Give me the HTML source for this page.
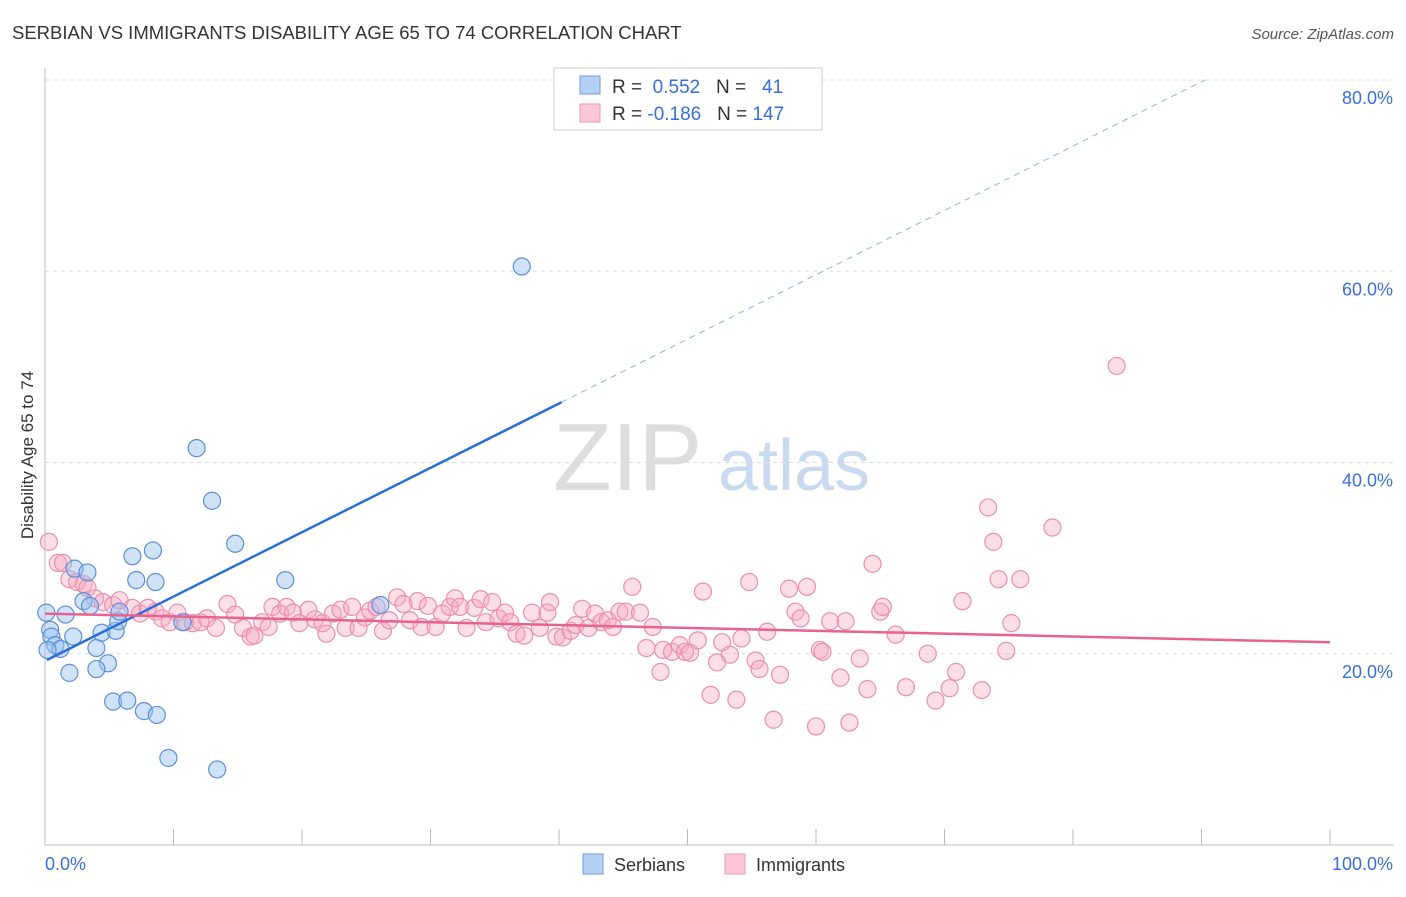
<!DOCTYPE html>
<html><head><meta charset="utf-8"><style>
body{margin:0;background:#fff;font-family:"Liberation Sans",sans-serif;}
svg text{font-family:"Liberation Sans",sans-serif;}
</style></head><body>
<svg id="chart" width="1406" height="892" xmlns="http://www.w3.org/2000/svg">
<text x="12" y="39" font-size="18.5" fill="#333">SERBIAN VS IMMIGRANTS DISABILITY AGE 65 TO 74 CORRELATION CHART</text>
<text x="1394" y="39" font-size="15" fill="#555" font-style="italic" text-anchor="end">Source: ZipAtlas.com</text>
<text x="553" y="490" font-size="96" fill="#ddd" font-family="Liberation Serif,serif">ZIP</text>
<text x="718" y="490" font-size="72" fill="#c9daf0">atlas</text>
<g id="grid"></g>
<g id="axes"></g>
<g id="pts"></g>
<g id="lines"></g>
<text transform="translate(33,455) rotate(-90)" font-size="17" fill="#333" text-anchor="middle">Disability Age 65 to 74</text>
<g>
<rect x="554" y="68" width="268" height="62" fill="#fff" stroke="#ccc"/>
<rect x="580" y="76" width="20" height="18" fill="#b6d0f3" stroke="#6d9be0"/>
<rect x="580" y="104" width="20" height="18" fill="#f9c7d6" stroke="#ec9ab4"/>
<text x="612" y="93" font-size="19" fill="#333">R = <tspan fill="#3a6fd8">&#160;0.552</tspan>&#160;&#160;&#160;N = <tspan fill="#3a6fd8">&#160;&#160;41</tspan></text>
<text x="612" y="120" font-size="19" fill="#333">R = <tspan fill="#3a6fd8">-0.186</tspan>&#160;&#160;&#160;N = <tspan fill="#3a6fd8">147</tspan></text>
</g>
<g>
<rect x="583" y="854" width="20" height="20" fill="#b6d0f3" stroke="#6d9be0"/>
<text x="614" y="871" font-size="18" fill="#333">Serbians</text>
<rect x="725" y="854" width="20" height="20" fill="#f9c7d6" stroke="#ec9ab4"/>
<text x="756" y="871" font-size="18" fill="#333">Immigrants</text>
</g>
</svg>
<script>
const serbX=[37.1,11.8,13.0,14.8,8.4,6.8,7.1,8.6,18.7,2.3,3.3,3.0,3.5,0.1,1.6,0.4,0.5,0.8,1.2,2.2,4.0,4.4,5.5,5.7,4.9,4.0,1.9,5.3,6.4,7.7,8.7,9.6,13.4,26.1,10.7,5.8,0.2];
const serbY=[60.5,41.5,36.0,31.5,30.8,30.2,27.7,27.5,27.7,28.9,28.5,25.5,25.0,24.3,24.1,22.5,21.8,20.9,20.5,21.8,20.6,22.2,22.4,23.4,19.0,18.4,18.0,15.0,15.1,14.0,13.6,9.1,7.9,25.1,23.3,24.4,20.4];
const immX=[0.3,1.0,1.4,1.9,2.5,3.0,3.3,3.9,4.5,5.3,5.8,6.8,7.4,8.0,8.6,9.1,9.7,10.3,10.9,11.5,12.1,12.6,13.3,14.2,14.8,15.4,16.0,16.3,16.9,17.4,17.7,18.3,18.8,19.3,19.8,20.5,21.0,21.6,21.9,22.4,23.0,23.4,23.9,24.4,24.9,25.3,25.8,26.3,26.8,27.4,27.9,28.4,29.0,29.3,29.8,30.4,30.9,31.5,31.9,32.3,32.8,33.4,33.9,34.3,34.8,35.3,35.8,36.2,36.7,37.3,37.9,38.5,39.1,39.3,39.8,40.3,40.9,41.3,41.8,42.3,42.8,43.3,43.8,44.2,44.7,45.2,45.7,46.3,46.8,47.3,47.9,48.1,48.8,49.4,49.8,50.2,50.8,51.2,51.8,52.3,52.7,53.3,53.8,54.2,54.8,55.3,55.6,56.2,56.7,57.2,57.9,58.4,58.8,59.3,60.0,60.3,60.5,61.1,61.9,62.3,62.6,63.4,64.0,64.4,65.0,65.2,66.2,67.0,68.7,69.3,70.4,70.9,71.4,72.9,73.4,73.8,74.2,74.8,75.2,75.9,78.4,83.4];
const immY=[31.7,29.5,29.5,27.8,27.5,27.3,26.9,25.8,25.4,25.1,25.6,24.8,24.2,24.8,24.4,23.7,23.3,24.3,23.3,23.2,23.3,23.7,22.7,25.2,24.1,22.7,21.8,21.9,23.3,22.8,24.9,24.2,24.9,24.3,23.2,24.6,23.6,23.2,22.1,24.2,24.6,22.7,24.9,22.7,23.8,24.5,24.9,22.4,23.5,25.9,25.2,23.5,25.5,22.8,25.0,22.8,24.2,24.9,25.8,24.9,22.7,24.8,25.7,23.3,25.4,23.7,24.3,23.3,22.1,21.9,24.3,22.7,24.3,25.4,21.8,21.7,22.4,23.0,24.7,22.7,24.2,23.3,23.5,22.8,24.4,24.4,27.0,24.3,20.6,22.8,18.1,20.4,20.2,20.9,20.2,20.1,21.4,26.5,15.7,19.1,21.2,19.9,15.2,21.6,27.5,19.3,18.4,22.3,13.1,17.8,26.8,24.4,23.7,27.0,12.4,20.4,20.2,23.4,17.5,23.4,12.8,19.5,16.3,29.4,24.4,24.9,22.0,16.5,20.0,15.1,16.4,18.1,25.5,16.2,35.3,31.7,27.8,20.3,23.2,27.8,33.2,50.1];
const yTicks=[20,40,60,80];
const yTickLabels=["20.0%","40.0%","60.0%","80.0%"];
const xTicks=[0,10,20,30,40,50,60,70,80,90,100];
const serbFit=[19.25,0.673]; // intercept, slope
const serbSolidEnd=40.2;
const immFit=[24.2,-0.03];

const NS="http://www.w3.org/2000/svg";
const X=v=>45+v*12.85, Y=v=>845-v*9.5625;
function mk(tag,attrs,parent){const e=document.createElementNS(NS,tag);for(const k in attrs)e.setAttribute(k,attrs[k]);document.getElementById(parent).appendChild(e);return e;}
yTicks.forEach((t,i)=>{
 const g=mk('line',{x1:45,x2:1394,y1:Y(t),y2:Y(t),stroke:'#ddd','stroke-dasharray':'4,4'},'grid');
 
 
 const tx=mk('text',{x:1393,y:Y(t)+24,'font-size':18,fill:'#3a6fd8','text-anchor':'end'},'grid');
 tx.textContent=yTickLabels[i];
 
 
});
let a=mk('line',{x1:45,x2:45,y1:68,y2:845,stroke:'#bbb'},'axes');


a=mk('line',{x1:45,x2:1394,y1:845,y2:845,stroke:'#bbb'},'axes');


xTicks.forEach(t=>{const l=mk('line',{x1:X(t),x2:X(t),y1:829,y2:845,stroke:'#bbb'},'axes');
 
 });
let t0=mk('text',{x:45,y:870,'font-size':18,fill:'#3a6fd8'},'axes');t0.textContent='0.0%';


t0=mk('text',{x:1393,y:870,'font-size':18,fill:'#3a6fd8','text-anchor':'end'},'axes');t0.textContent='100.0%';


immX.forEach((x,i)=>{const c=mk('circle',{cx:X(x),cy:Y(immY[i]),r:8.5,fill:'rgba(246,168,192,0.38)',stroke:'#ea8fae','stroke-width':1.2},'pts');
 
 });
serbX.forEach((x,i)=>{const c=mk('circle',{cx:X(x),cy:Y(serbY[i]),r:8.5,fill:'rgba(150,190,240,0.45)',stroke:'#5b8fd8','stroke-width':1.2},'pts');
 
 });
const sy=v=>serbFit[0]+serbFit[1]*v, iy=v=>immFit[0]+immFit[1]*v;
const xEnd=(80-serbFit[0])/serbFit[1];
let ln=mk('line',{x1:X(0.15),y1:Y(sy(0.15)),x2:X(serbSolidEnd),y2:Y(sy(serbSolidEnd)),stroke:'#2a6fd6','stroke-width':2.5},'lines');


ln=mk('line',{x1:X(serbSolidEnd),y1:Y(sy(serbSolidEnd)),x2:X(xEnd),y2:Y(80),stroke:'#8fb2e6','stroke-width':1,'stroke-dasharray':'6,5'},'lines');


ln=mk('line',{x1:X(0),y1:Y(iy(0)),x2:X(100),y2:Y(iy(100)),stroke:'#e8628f','stroke-width':2.5},'lines');


</script>
</body></html>
